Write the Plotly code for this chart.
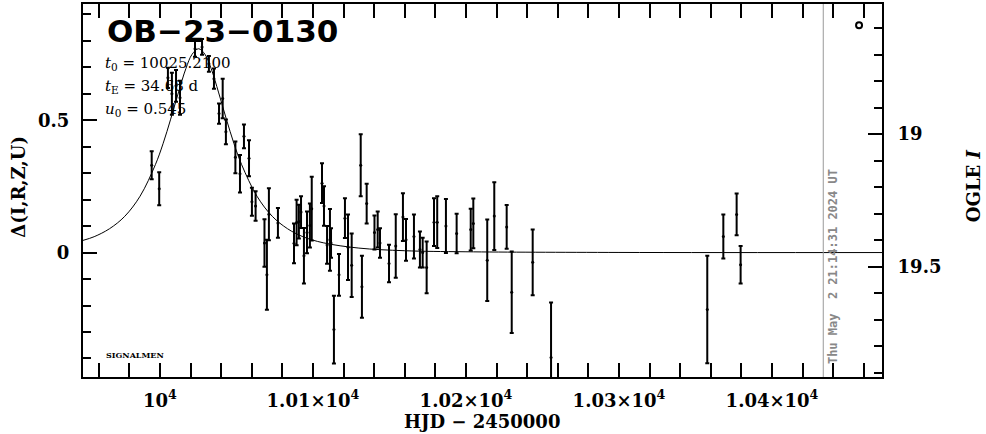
import plotly.graph_objects as go

# ---- data ----
hjd = [9994.6, 9999.5, 10005.2, 10007.8, 10010.5, 10013.1, 10022.9, 10027.5, 10032.0, 10035.3,
       10038.6, 10041.0, 10043.1, 10049.3, 10052.3, 10054.9, 10058.2, 10060.1, 10062.5, 10068.3,
       10069.9, 10071.2, 10077.1, 10087.6, 10089.3, 10090.8, 10092.2, 10094.1, 10096.1, 10098.0,
       10099.2, 10105.9, 10107.2, 10109.2, 10111.1, 10111.8, 10113.7, 10117.0, 10120.9, 10122.9,
       10125.3, 10131.2, 10132.0, 10135.1, 10140.2, 10142.3, 10143.8, 10149.7, 10154.1, 10158.8,
       10160.8, 10166.0, 10169.9, 10171.7, 10174.3, 10179.1, 10181.2, 10186.9, 10193.9, 10203.1,
       10204.8, 10213.9, 10218.5, 10226.6, 10229.9, 10243.6, 10255.6, 10357.7, 10368.2, 10376.9,
       10379.5]
delta = [0.330, 0.241, 0.660, 0.600, 0.630, 0.585, 0.770, 0.777, 0.713, 0.657,
         0.525, 0.582, 0.456, 0.360, 0.298, 0.439, 0.356, 0.192, 0.176, 0.036,
         -0.084, 0.145, 0.112, 0.035, 0.114, 0.117, 0.153, -0.012, 0.076, 0.102,
         0.166, 0.262, 0.176, 0.029, 0.048, 0.036, -0.291, -0.084, 0.130, 0.020,
         -0.048, 0.330, -0.129, 0.185, 0.076, 0.087, 0.036, -0.041, 0.025, 0.134,
         0.048, 0.061, 0.012, 0.000, -0.056, 0.115, 0.115, 0.100, 0.072, 0.087,
         0.110, -0.029, 0.138, 0.097, -0.150, -0.037, -0.396, -0.215, 0.061, 0.144,
         -0.046]
err = [0.053, 0.062, 0.038, 0.079, 0.060, 0.064, 0.030, 0.030, 0.030, 0.038,
       0.038, 0.075, 0.047, 0.060, 0.071, 0.045, 0.068, 0.053, 0.056, 0.090,
       0.132, 0.098, 0.056, 0.075, 0.086, 0.064, 0.060, 0.105, 0.079, 0.083,
       0.120, 0.075, 0.075, 0.071, 0.117, 0.056, 0.128, 0.079, 0.075, 0.124,
       0.120, 0.117, 0.117, 0.075, 0.064, 0.068, 0.056, 0.071, 0.120, 0.090,
       0.079, 0.083, 0.068, 0.056, 0.098, 0.090, 0.098, 0.102, 0.075, 0.079,
       0.094, 0.154, 0.128, 0.083, 0.154, 0.124, 0.207, 0.203, 0.083, 0.079,
       0.071]

model_t = [9949.7, 9957, 9967, 9977, 9987, 9997, 10002, 10007, 10012, 10017, 10021, 10025.2,
           10029.4, 10033.4, 10038.4, 10043.4, 10048.4, 10053.4, 10063.4, 10073.4, 10083.4,
           10093.4, 10106.7, 10130, 10160, 10200, 10300, 10472]
model_d = [0.046, 0.060, 0.090, 0.137, 0.213, 0.332, 0.411, 0.504, 0.603, 0.696, 0.749, 0.770,
           0.749, 0.696, 0.603, 0.504, 0.411, 0.332, 0.213, 0.137, 0.090,
           0.060, 0.037, 0.017, 0.007, 0.003, 0.0005, 0.0001]

x_tickvals = [10000, 10100, 10200, 10300, 10400]
x_ticktext = ["10<sup>4</sup>", "1.01×10<sup>4</sup>", "1.02×10<sup>4</sup>",
              "1.03×10<sup>4</sup>", "1.04×10<sup>4</sup>"]
y_tickvals = [0, 0.5]
y_ticktext = ["0", "0.5"]
y2_tickvals = [19, 19.5]
y2_ticktext = ["19", "19.5"]

title_text = "OB−23−0130"
param_lines = ["<i>t</i><sub>0</sub> = 10025.2100",
               "<i>t</i><sub>E</sub> = 34.68 d",
               "<i>u</i><sub>0</sub> = 0.545"]
stamp = "Thu May\u00a0\u00a02 21:14:31 2024 UT"
stamp_t = 10433.5
ogle_marker_t = [10456.9]
ogle_marker_i = [18.589]

X_RANGE = [9949.7, 10471.9]
Y_RANGE = [-0.470, 0.939]
Y2_RANGE = [19.917, 18.509]

SERIF = "DejaVu Serif"
fig = go.Figure()

fig.add_trace(go.Scatter(x=model_t, y=model_d, mode="lines", line=dict(color="black", width=1, shape="spline"),
                         hoverinfo="skip", showlegend=False))
fig.add_trace(go.Scatter(x=hjd, y=delta, mode="markers",
                         marker=dict(color="black", size=3),
                         error_y=dict(type="data", array=err, color="black", thickness=2, width=2),
                         showlegend=False))
fig.add_trace(go.Scatter(x=ogle_marker_t, y=ogle_marker_i, yaxis="y2", mode="markers",
                         marker=dict(symbol="circle-open", color="black", size=6, line=dict(width=2)),
                         showlegend=False))

fig.add_shape(type="line", xref="x", yref="paper", x0=stamp_t, x1=stamp_t, y0=0, y1=1,
              line=dict(color="#999999", width=1))

axis_common = dict(showline=True, linecolor="black", linewidth=2, showgrid=False, zeroline=False,
                   ticks="inside", ticklen=14, tickwidth=1.5, tickcolor="black",
                   tickfont=dict(family=SERIF, size=18, color="black", weight="bold"))

fig.update_layout(
    width=986, height=434,
    margin=dict(l=83, r=104, t=2, b=57),
    paper_bgcolor="white", plot_bgcolor="white",
    xaxis=dict(range=X_RANGE, tickmode="array", tickvals=x_tickvals, ticktext=x_ticktext,
               mirror="allticks", ticklabelstandoff=6,
               minor=dict(tickmode="linear", tick0=10000, dtick=20, ticks="inside", ticklen=8,
                          tickwidth=1.5, tickcolor="black"),
               **axis_common),
    yaxis=dict(range=Y_RANGE, tickmode="array", tickvals=y_tickvals, ticktext=y_ticktext,
               ticklabelstandoff=8,
               minor=dict(tickmode="linear", tick0=0, dtick=0.1, ticks="inside", ticklen=8,
                          tickwidth=1.5, tickcolor="black"),
               **axis_common),
    yaxis2=dict(range=Y2_RANGE, overlaying="y", side="right", tickmode="array",
                tickvals=y2_tickvals, ticktext=y2_ticktext, ticklabelstandoff=10,
                minor=dict(tickmode="linear", tick0=19, dtick=0.1, ticks="inside", ticklen=8,
                           tickwidth=1.5, tickcolor="black"),
                **axis_common),
)

ann = []
ann.append(dict(text=title_text, x=0.027, y=0.928, xref="paper", yref="paper", xanchor="left",
                yanchor="middle", showarrow=False,
                font=dict(family="DejaVu Sans", size=31, color="black", weight="bold")))
for i, line in enumerate(param_lines):
    ann.append(dict(text=line, x=0.025, y=(376.7 - (62 + 23 * i)) / 374.7, xref="paper", yref="paper",
                    xanchor="left", yanchor="middle", showarrow=False,
                    font=dict(family=SERIF, size=15, color="black")))
ann.append(dict(text="<b>SIGNALMEN</b>", x=0.026, y=(376.7 - 355) / 374.7, xref="paper", yref="paper",
                xanchor="left", yanchor="middle", showarrow=False,
                font=dict(family=SERIF, size=8, color="black")))
ann.append(dict(text=stamp, x=stamp_t, xref="x", xanchor="left", xshift=1,
                y=(376.7 - 366) / 374.7, yref="paper", yanchor="bottom", textangle=-90, showarrow=False,
                font=dict(family="DejaVu Sans Mono", size=12, color="#888888", weight="bold")))
ann.append(dict(text="HJD − 2450000", x=(482 - 83) / 799, y=-0.12, xref="paper", yref="paper",
                xanchor="center", yanchor="middle", showarrow=False,
                font=dict(family=SERIF, size=18, color="black", weight="bold")))
ann.append(dict(text="Δ(I,R,Z,U)", x=(19 - 83) / 799, y=0.51, xref="paper", yref="paper",
                xanchor="center", yanchor="middle", textangle=-90, showarrow=False,
                font=dict(family=SERIF, size=18, color="black", weight="bold")))
ann.append(dict(text="OGLE <i>I</i>", x=(973 - 83) / 799, y=(376.7 - 185) / 374.7, xref="paper", yref="paper",
                xanchor="center", yanchor="middle", textangle=-90, showarrow=False,
                font=dict(family=SERIF, size=18, color="black", weight="bold")))
fig.update_layout(annotations=ann)

fig.write_html("out.html", config={"displayModeBar": False},
               post_script="document.body.style.margin='0';document.body.style.padding='0';")
